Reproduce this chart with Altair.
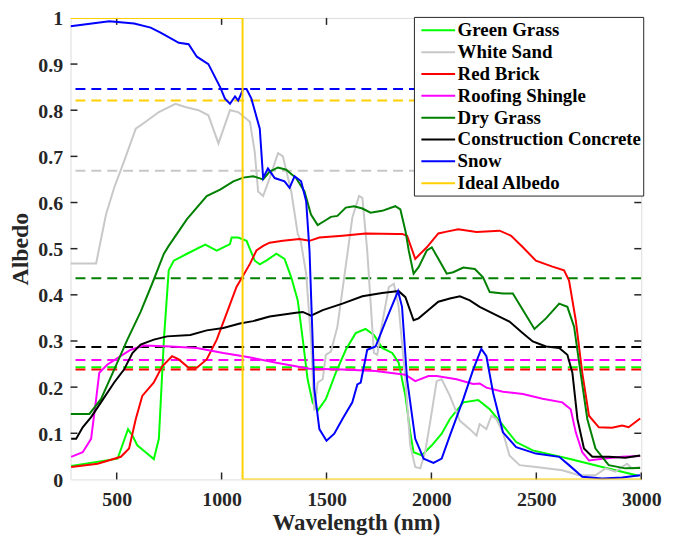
import altair as alt
import pandas as pd

# ---------------- data ----------------
series_names = ["Green Grass", "White Sand", "Red Brick", "Roofing Shingle",
                "Dry Grass", "Construction Concrete", "Snow", "Ideal Albedo"]
series_colors = ["#00ff00", "#c8c8c8", "#ff0000", "#ff00ff",
                 "#008000", "#000000", "#0000ff", "#ffd000"]

green_x = [283, 504, 527, 554, 575, 598, 638, 677, 701, 725, 748, 772, 835, 922, 977, 1040, 1048, 1079,
           1119, 1158, 1182, 1213, 1261, 1300, 1332, 1363, 1387, 1410, 1434, 1458, 1497, 1544, 1592, 1639,
           1686, 1726, 1765, 1813, 1844, 1876, 1899, 1915, 1954, 2002, 2049, 2088, 2152, 2223, 2278, 2341,
           2404, 2483, 2656, 2814, 2987]
green_y = [0.029, 0.045, 0.074, 0.109, 0.095, 0.074, 0.059, 0.044, 0.088, 0.303, 0.453, 0.474, 0.489, 0.509,
           0.496, 0.510, 0.524, 0.524, 0.517, 0.474, 0.466, 0.474, 0.489, 0.478, 0.438, 0.388, 0.303, 0.217,
           0.167, 0.149, 0.174, 0.231, 0.281, 0.317, 0.326, 0.313, 0.285, 0.274, 0.253, 0.181, 0.102, 0.059,
           0.052, 0.074, 0.099, 0.131, 0.167, 0.172, 0.152, 0.117, 0.081, 0.063, 0.045, 0.027, 0.008]

sand_x = [280, 402, 449, 488, 535, 591, 638, 701, 780, 827, 890, 937, 985, 1040, 1079, 1135, 1158, 1174,
          1198, 1229, 1269, 1292, 1332, 1363, 1377, 1403, 1426, 1442, 1458, 1482, 1497, 1521, 1552, 1576,
          1608, 1623, 1655, 1671, 1694, 1726, 1742, 1757, 1797, 1821, 1844, 1876, 1899, 1923, 1947, 1970,
          1994, 2025, 2049, 2088, 2136, 2183, 2215, 2230, 2262, 2286, 2309, 2341, 2372, 2420, 2498, 2624,
          2703, 2782, 2830, 2877, 2932, 2956, 2995]
sand_y = [0.468, 0.468, 0.574, 0.632, 0.689, 0.760, 0.775, 0.796, 0.814, 0.807, 0.800, 0.789, 0.728, 0.800,
          0.796, 0.775, 0.710, 0.624, 0.614, 0.653, 0.707, 0.700, 0.624, 0.532, 0.517, 0.446, 0.303, 0.149,
          0.210, 0.217, 0.270, 0.277, 0.331, 0.410, 0.517, 0.567, 0.614, 0.610, 0.496, 0.274, 0.270, 0.317,
          0.417, 0.424, 0.374, 0.217, 0.074, 0.027, 0.024, 0.059, 0.124, 0.213, 0.217, 0.181, 0.127, 0.109,
          0.095, 0.120, 0.109, 0.138, 0.131, 0.102, 0.052, 0.031, 0.027, 0.020, 0.009, 0.009, 0.024, 0.017,
          0.034, 0.024, 0.027]

brick_x = [283, 409, 520, 559, 591, 622, 677, 717, 764, 796, 843, 882, 929, 977, 1024, 1071, 1103, 1135,
           1166, 1198, 1229, 1292, 1371, 1419, 1466, 1576, 1686, 1836, 1860, 1884, 1923, 1978, 2033, 2073,
           2128, 2215, 2325, 2380, 2436, 2498, 2577, 2632, 2656, 2688, 2719, 2751, 2798, 2861, 2909, 2940,
           2995]
brick_y = [0.027, 0.034, 0.049, 0.067, 0.131, 0.181, 0.210, 0.245, 0.267, 0.260, 0.242, 0.242, 0.260, 0.303,
           0.360, 0.417, 0.442, 0.467, 0.496, 0.506, 0.513, 0.517, 0.521, 0.517, 0.524, 0.528, 0.533, 0.532,
           0.532, 0.528, 0.478, 0.503, 0.533, 0.537, 0.542, 0.536, 0.539, 0.528, 0.503, 0.474, 0.461, 0.453,
           0.431, 0.345, 0.231, 0.138, 0.113, 0.112, 0.117, 0.113, 0.132]

shingle_x = [283, 338, 378, 402, 417, 456, 504, 567, 630, 756, 882, 1008, 1103, 1150, 1261, 1419, 1576,
             1734, 1876, 1923, 1986, 2025, 2120, 2199, 2230, 2262, 2341, 2436, 2530, 2624, 2664, 2688, 2719,
             2751, 2814, 2909, 2995]
shingle_y = [0.049, 0.059, 0.088, 0.174, 0.231, 0.249, 0.263, 0.281, 0.290, 0.288, 0.285, 0.274, 0.267,
             0.263, 0.253, 0.240, 0.238, 0.235, 0.227, 0.213, 0.224, 0.224, 0.217, 0.207, 0.208, 0.199, 0.190,
             0.185, 0.175, 0.167, 0.152, 0.102, 0.059, 0.041, 0.045, 0.049, 0.051]

dry_x = [280, 370, 425, 488, 551, 614, 669, 725, 748, 835, 929, 993, 1056, 1103, 1150, 1198, 1229, 1269,
         1308, 1355, 1395, 1426, 1458, 1490, 1521, 1552, 1592, 1631, 1671, 1710, 1765, 1828, 1852, 1876,
         1892, 1915, 1939, 1978, 2002, 2033, 2073, 2104, 2152, 2207, 2246, 2278, 2341, 2388, 2436, 2491,
         2546, 2609, 2648, 2680, 2711, 2743, 2782, 2845, 2924, 2995]
dry_y = [0.142, 0.142, 0.174, 0.238, 0.303, 0.363, 0.424, 0.489, 0.506, 0.564, 0.614, 0.628, 0.646, 0.654,
         0.657, 0.650, 0.667, 0.676, 0.671, 0.653, 0.624, 0.574, 0.551, 0.560, 0.569, 0.571, 0.589, 0.592,
         0.587, 0.578, 0.582, 0.592, 0.585, 0.539, 0.496, 0.446, 0.460, 0.496, 0.503, 0.478, 0.446, 0.449,
         0.459, 0.456, 0.438, 0.406, 0.403, 0.403, 0.367, 0.326, 0.349, 0.381, 0.374, 0.331, 0.231, 0.131,
         0.067, 0.031, 0.024, 0.025]

concrete_x = [283, 307, 338, 378, 425, 488, 535, 575, 614, 677, 740, 851, 929, 1008, 1087, 1150, 1229, 1355,
              1387, 1426, 1482, 1576, 1671, 1765, 1844, 1876, 1915, 1939, 1986, 2033, 2088, 2136, 2183, 2230,
              2309, 2372, 2436, 2483, 2546, 2609, 2648, 2672, 2696, 2727, 2767, 2845, 2924, 2995]
concrete_y = [0.088, 0.088, 0.113, 0.135, 0.167, 0.210, 0.238, 0.274, 0.292, 0.303, 0.310, 0.313, 0.323,
              0.328, 0.338, 0.343, 0.353, 0.361, 0.363, 0.355, 0.367, 0.381, 0.397, 0.404, 0.408, 0.395, 0.345,
              0.349, 0.367, 0.385, 0.392, 0.397, 0.388, 0.374, 0.356, 0.342, 0.317, 0.299, 0.288, 0.285, 0.270,
              0.231, 0.131, 0.067, 0.049, 0.049, 0.047, 0.052]

snow_x = [280, 465, 583, 662, 709, 796, 843, 882, 937, 993, 1016, 1040, 1064, 1079, 1103, 1119, 1142, 1182,
          1198, 1221, 1253, 1300, 1324, 1348, 1379, 1403, 1419, 1442, 1466, 1500, 1537, 1576, 1623, 1647, 1663,
          1694, 1734, 1781, 1841, 1860, 1884, 1923, 1963, 2010, 2049, 2088, 2152, 2199, 2238, 2262, 2294, 2341,
          2404, 2498, 2609, 2656, 2719, 2814, 2909, 2995]
snow_y = [0.982, 0.993, 0.988, 0.979, 0.968, 0.946, 0.943, 0.916, 0.900, 0.850, 0.825, 0.814, 0.830, 0.821,
          0.846, 0.846, 0.825, 0.760, 0.653, 0.674, 0.653, 0.646, 0.632, 0.657, 0.646, 0.603, 0.496, 0.195,
          0.109, 0.084, 0.099, 0.131, 0.167, 0.206, 0.210, 0.281, 0.288, 0.342, 0.408, 0.374, 0.217, 0.088,
          0.045, 0.036, 0.045, 0.095, 0.174, 0.238, 0.283, 0.267, 0.188, 0.102, 0.070, 0.056, 0.049, 0.031,
          0.006, 0.002, 0.004, 0.009]

ideal_x = [280, 1100, 1100, 3000]
ideal_y = [1.0, 1.0, 0.0, 0.0]

mean_values = [0.243, 0.669, 0.238, 0.259, 0.436, 0.287, 0.846, 0.821]

x_ticks = [500, 1000, 1500, 2000, 2500, 3000]
y_ticks = [0, 0.1, 0.2, 0.3, 0.4, 0.5, 0.6, 0.7, 0.8, 0.9, 1]

# ---------------- tables ----------------
all_x = [green_x, sand_x, brick_x, shingle_x, dry_x, concrete_x, snow_x, ideal_x]
all_y = [green_y, sand_y, brick_y, shingle_y, dry_y, concrete_y, snow_y, ideal_y]
rows = []
for name, xs, ys in zip(series_names, all_x, all_y):
    for i, (xv, yv) in enumerate(zip(xs, ys)):
        rows.append({"Material": name, "x": xv, "y": yv, "i": i})
curves = pd.DataFrame(rows)
means = pd.DataFrame({"Material": series_names, "y": mean_values})
xt = pd.DataFrame({"x": x_ticks})
yt = pd.DataFrame({"y": y_ticks[1:-1]})

W, H = 575, 465
FONT = "Liberation Serif"
AX = "#262626"

xscale = alt.Scale(domain=[280, 3000], nice=False, zero=False)
yscale = alt.Scale(domain=[0, 1], nice=False, zero=False)
xaxis = alt.Axis(values=x_ticks, format="d", title="Wavelength (nm)", tickSize=0, labelPadding=10,
                 domain=False, grid=False, labelFontSize=20, labelFontWeight="bold", labelFont=FONT,
                 labelColor=AX, titleFontSize=23, titleFontWeight="bold", titleFont=FONT, titleColor=AX,
                 titlePadding=2, labelOverlap=False, labelFlush=False)
yaxis = alt.Axis(values=y_ticks, format="~g", title="Albedo", tickSize=0, labelPadding=8,
                 domain=False, grid=False, labelFontSize=20, labelFontWeight="bold", labelFont=FONT,
                 labelColor=AX, titleFontSize=24, titleFontWeight="bold", titleFont=FONT, titleColor=AX,
                 titlePadding=5, labelOverlap=False, labelFlush=False, labelOffset=1)
X = alt.X("x:Q", scale=xscale, axis=xaxis)
Y = alt.Y("y:Q", scale=yscale, axis=yaxis)

color = alt.Color("Material:N",
                  scale=alt.Scale(domain=series_names, range=series_colors),
                  sort=series_names,
                  legend=alt.Legend(title=None, orient="none", legendX=346, legendY=-1,
                                    symbolType="M-1.667,0H1.667", symbolSize=416, symbolStrokeWidth=2,
                                    symbolOffset=11, symbolFillColor="transparent",
                                    labelFont=FONT, labelFontSize=19, labelFontWeight="bold",
                                    labelColor="#000000", strokeColor=AX, fillColor="white",
                                    padding=2, rowPadding=0, labelOffset=8, labelLimit=400))

dashed = alt.Chart(means).mark_rule(strokeDash=[10, 6], strokeWidth=2, clip=True).encode(
    y=Y, color=color)

lines = alt.Chart(curves).mark_line(strokeWidth=2, clip=True).encode(
    x=X, y=Y, color=color, order=alt.Order("i:Q"))

tick_b = alt.Chart(xt).mark_rule(color=AX, strokeWidth=1.5).encode(
    x=X, y=alt.value(H), y2=alt.value(H - 7))
tick_t = alt.Chart(xt).mark_rule(color=AX, strokeWidth=1.5).encode(
    x=X, y=alt.value(0), y2=alt.value(7))
tick_l = alt.Chart(yt).mark_rule(color=AX, strokeWidth=1.5).encode(
    y=Y, x=alt.value(0), x2=alt.value(7))
tick_r = alt.Chart(yt).mark_rule(color=AX, strokeWidth=1.5).encode(
    y=Y, x=alt.value(W), x2=alt.value(W - 7))

chart = alt.layer(tick_b, tick_t, tick_l, tick_r, dashed, lines).properties(
    width=W, height=H,
    autosize=alt.AutoSizeParams(type="none"),
    padding={"left": 63, "top": 8, "right": 30, "bottom": 55},
).configure_view(stroke=AX, strokeWidth=2).configure(background="white")

chart.save("out.html", embed_options={"renderer": "svg", "actions": False})
